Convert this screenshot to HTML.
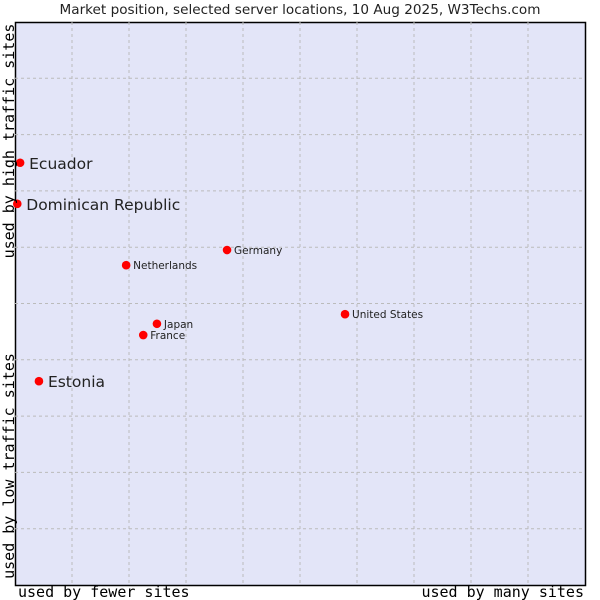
<!DOCTYPE html>
<html><head><meta charset="utf-8"><style>
body{margin:0;background:#fff;width:600px;height:600px;overflow:hidden}
svg{display:block}
</style></head><body>
<svg id="chart" width="600" height="600" xmlns="http://www.w3.org/2000/svg">
<text x="300" y="14" text-anchor="middle" font-family="DejaVu Sans, sans-serif" font-size="13.6" fill="#222">Market position, selected server locations, 10 Aug 2025, W3Techs.com</text>
<rect x="15.5" y="22.5" width="570" height="563" fill="#e3e5f8" stroke="#000" stroke-width="1.5"/>
<g id="grid"></g>
<g id="points"></g>
<text x="14" y="141" transform="rotate(-90 14 141)" text-anchor="middle" font-family="DejaVu Sans Mono, Liberation Mono, monospace" font-size="15" fill="#000">used by high traffic sites</text>
<text x="14" y="466" transform="rotate(-90 14 466)" text-anchor="middle" font-family="DejaVu Sans Mono, Liberation Mono, monospace" font-size="15" fill="#000">used by low traffic sites</text>
<text x="18" y="597" font-family="DejaVu Sans Mono, Liberation Mono, monospace" font-size="15" fill="#000">used by fewer sites</text>
<text x="584" y="597" text-anchor="end" font-family="DejaVu Sans Mono, Liberation Mono, monospace" font-size="15" fill="#000">used by many sites</text>
</svg>
<script>
const names=["Ecuador","Dominican Republic","Germany","Netherlands","United States","Japan","France","Estonia"];
const xValues=[0.9,0.4,37.2,19.5,57.9,24.9,22.5,4.2];
const yValues=[75.0,67.7,59.5,56.8,48.1,46.4,44.4,36.2];
const highlighted=[true,true,false,false,false,false,false,true];
const NS="http://www.w3.org/2000/svg";
const L=15,R=585,T=22,B=585;
function sx(v){return L+v/100*(R-L);}
function sy(v){return B-v/100*(B-T);}
const grid=document.getElementById('grid');
for(let i=1;i<10;i++){
 const x=L+i*(R-L)/10, y=T+i*(B-T)/10;
 const v=document.createElementNS(NS,'line');
 v.setAttribute('x1',x);v.setAttribute('x2',x);v.setAttribute('y1',T);v.setAttribute('y2',B);
 v.setAttribute('stroke','#bbb');v.setAttribute('stroke-dasharray','3,3');
 
 
 grid.appendChild(v);
 const h=document.createElementNS(NS,'line');
 h.setAttribute('x1',L);h.setAttribute('x2',R);h.setAttribute('y1',y);h.setAttribute('y2',y);
 h.setAttribute('stroke','#bbb');h.setAttribute('stroke-dasharray','3,3');
 
 
 grid.appendChild(h);
}
const pts=document.getElementById('points');
names.forEach((n,i)=>{
 const x=sx(xValues[i]),y=sy(yValues[i]);
 const c=document.createElementNS(NS,'circle');
 c.setAttribute('cx',x);c.setAttribute('cy',y);c.setAttribute('r',4.3);c.setAttribute('fill','#f00');
 
 
 pts.appendChild(c);
 const t=document.createElementNS(NS,'text');
 const big=highlighted[i];
 t.setAttribute('x',x+(big?9:7));t.setAttribute('y',y+(big?6:4));
 t.setAttribute('font-family','DejaVu Sans, sans-serif');
 t.setAttribute('font-size',big?15.5:10.5);
 t.setAttribute('fill','#222');
 t.textContent=n;
 
 
 pts.appendChild(t);
});
</script>
</body></html>
